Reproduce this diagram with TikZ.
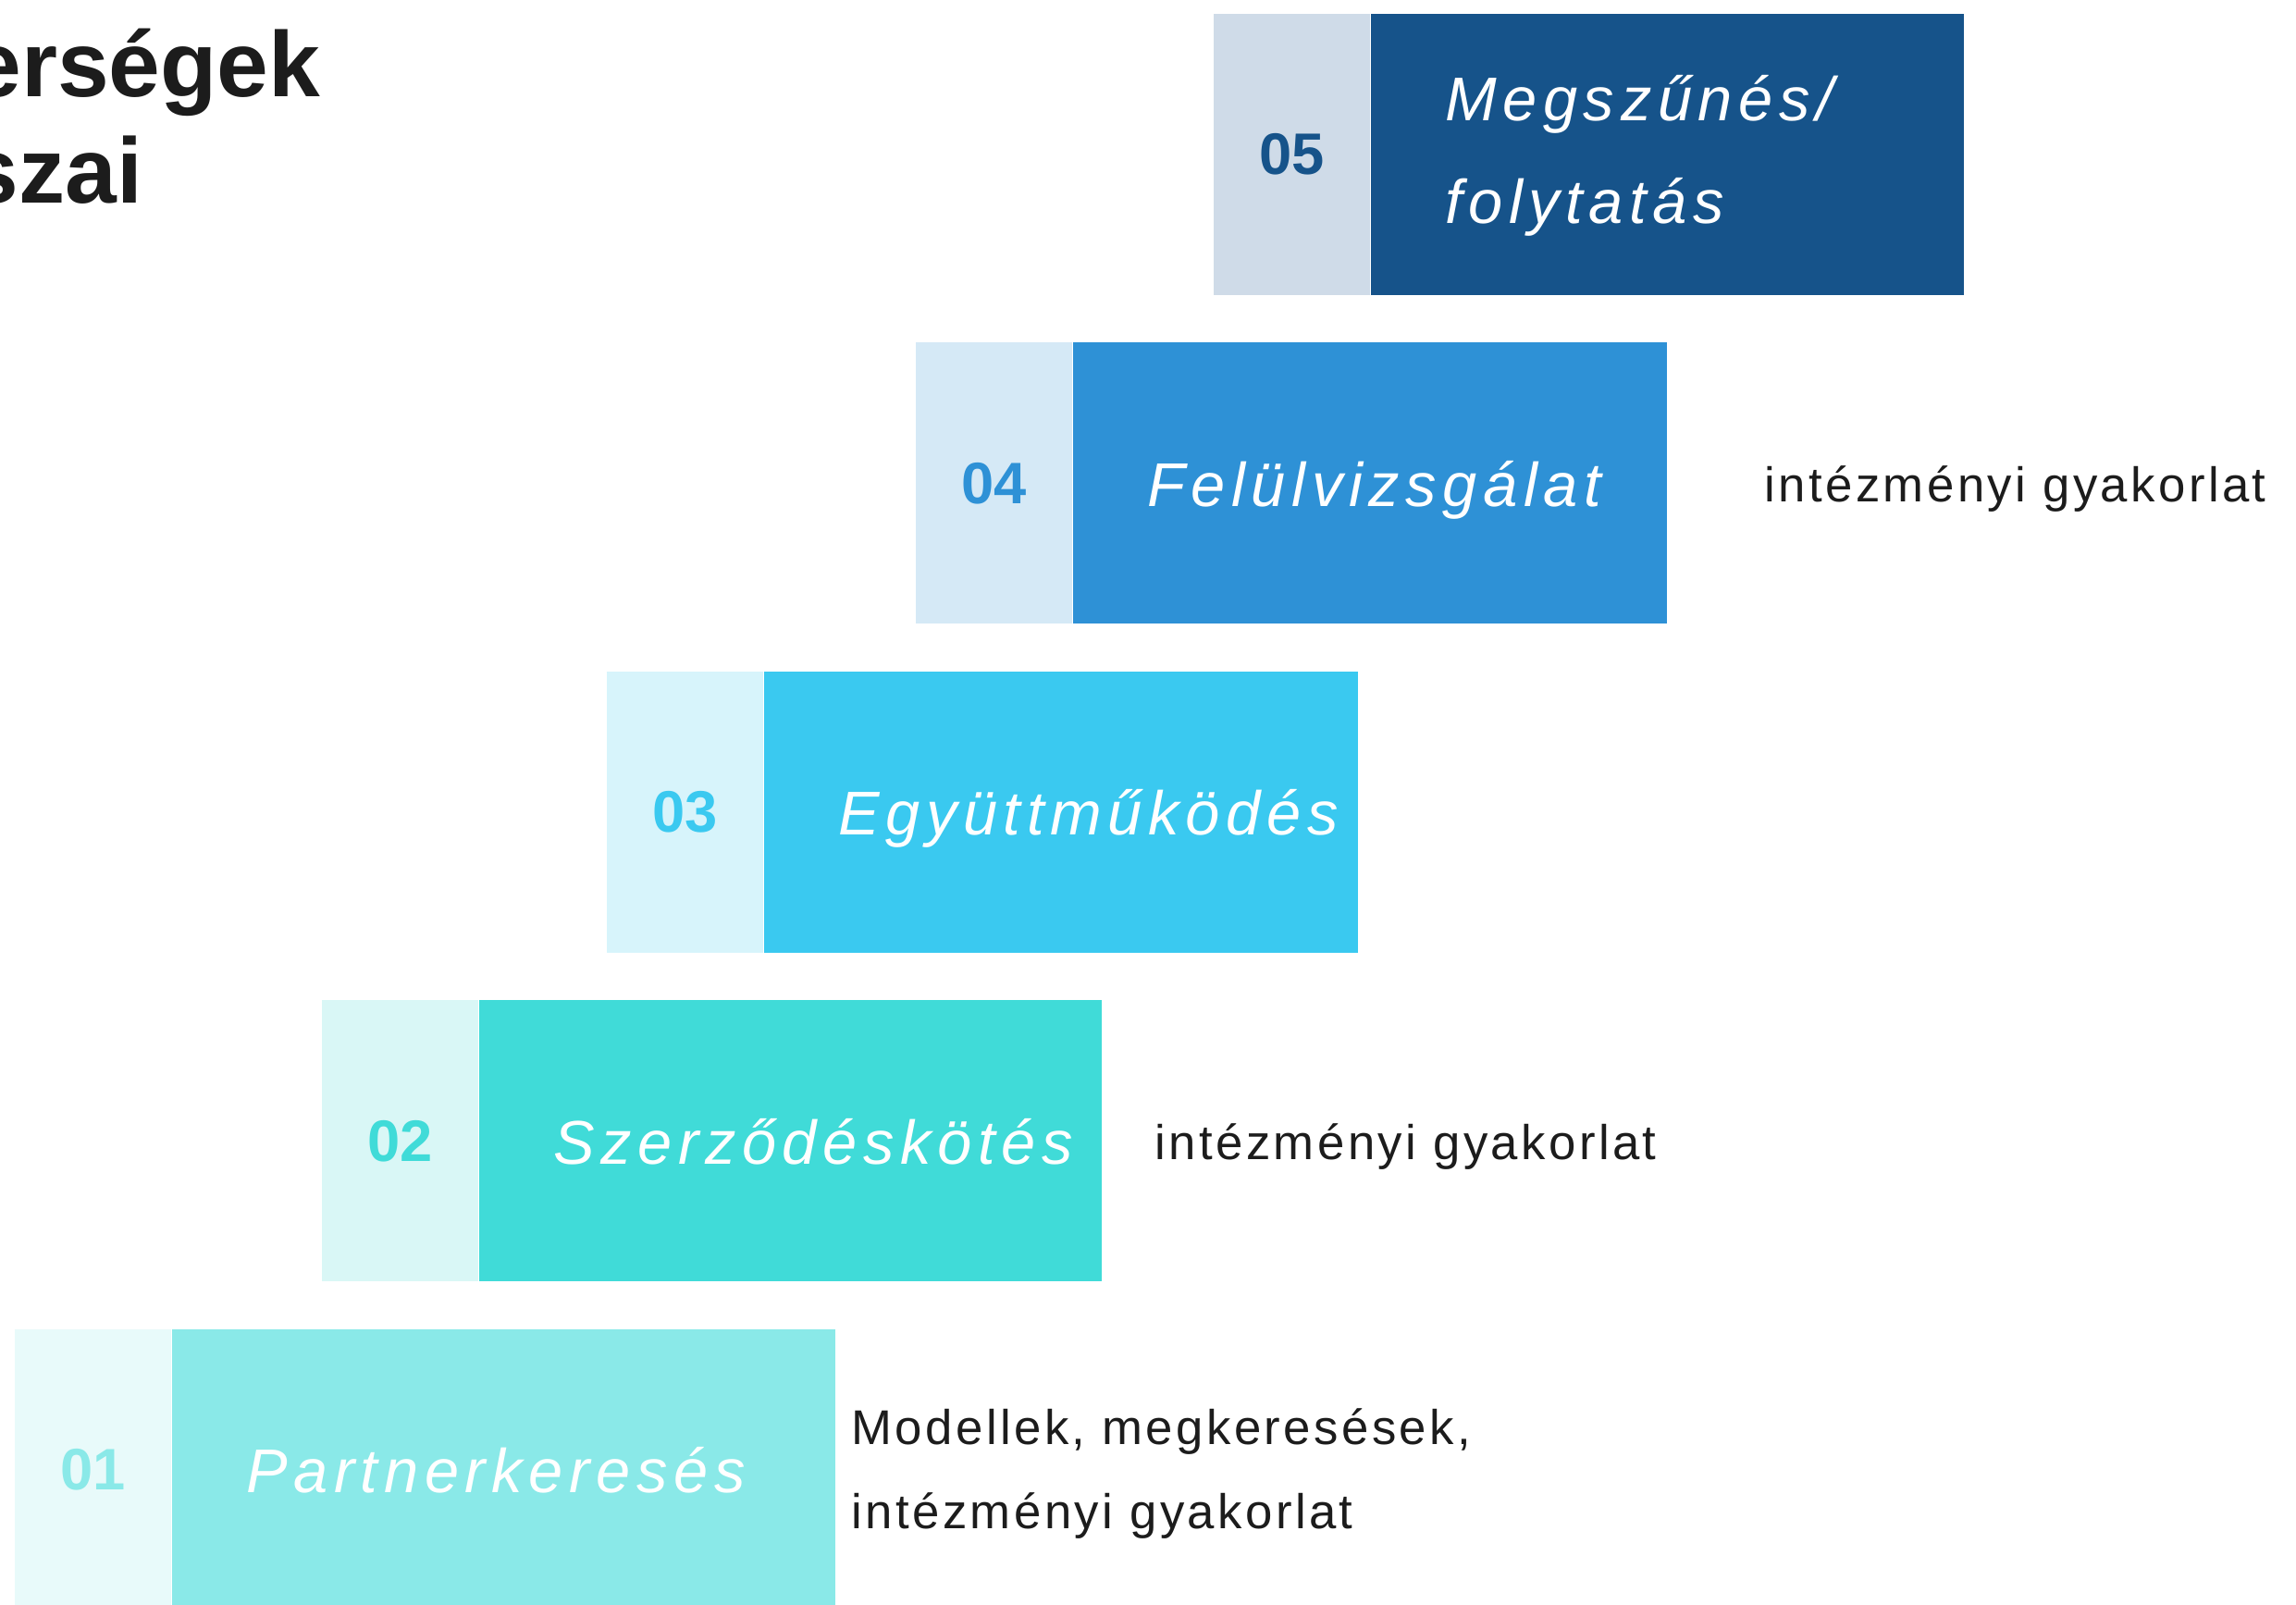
\documentclass[tikz,border=0pt]{standalone}
\usepackage{fontspec}
\setmainfont{Liberation Sans}
\newfontfamily\stagefont[LetterSpace=10]{Liberation Sans}
\newfontfamily\notefont[LetterSpace=6.5]{Liberation Sans}
\usetikzlibrary{positioning}

\definecolor{fg1}{HTML}{8AE9E8}\definecolor{bg1}{HTML}{E8FAFA}
\definecolor{fg2}{HTML}{40DBD8}\definecolor{bg2}{HTML}{D9F7F6}
\definecolor{fg3}{HTML}{3AC9F0}\definecolor{bg3}{HTML}{D7F4FB}
\definecolor{fg4}{HTML}{2E91D6}\definecolor{bg4}{HTML}{D5E9F6}
\definecolor{fg5}{HTML}{16538A}\definecolor{bg5}{HTML}{CFDBE8}
\definecolor{ink}{HTML}{1C1C1C}

\tikzset{
  numbox/.style={rectangle, inner sep=0pt, minimum width=1.69cm, minimum height=3.04cm,
    font=\fontsize{18}{18}\selectfont\bfseries},
  stagebox/.style={rectangle, inner sep=0pt, minimum height=3.04cm, anchor=west},
  stagelabel/.style={anchor=base west, inner sep=0pt, text=white, align=left,
    font=\stagefont\itshape\fontsize{19}{31.6}\selectfont},
  note/.style={anchor=base west, inner sep=0pt, text=ink, align=left,
    font=\notefont\fontsize{15}{25.9}\selectfont},
  headline/.style={anchor=base east, inner sep=0pt, text=ink,
    font=\bfseries\fontsize{28.5}{32}\selectfont}
}

\begin{document}
\begin{tikzpicture}
  \useasboundingbox (0,0) rectangle (24.82,17.35);
  \clip (0,0) rectangle (24.82,17.35);

  % title, cut at the left edge
  \node[headline] (head1) at (3.47,16.30) {erségek};
  \node[headline] (head2) at (1.55,15.15) {szai};

  % the five stages (\dy = baseline of the last line)
  \foreach \i/\x/\w/\dy/\lab in {1/0.15/7.17/-0.25/Partnerkeresés,
                                  2/3.47/6.73/-0.25/Szerződéskötés,
                                  3/6.55/6.42/-0.25/Együttműködés,
                                  4/9.89/6.42/-0.25/Felülvizsgálat,
                                  5/13.11/6.41/-0.75/{Megszűnés/\\folytatás}}{
    \pgfmathsetmacro{\yc}{1.46+3.555*(\i-1)}
    \node[numbox, fill=bg\i, text=fg\i, anchor=west] (n\i) at (\x,\yc) {0\i};
    \node[stagebox, fill=fg\i, minimum width=\w cm] (s\i) at (n\i.east) {};
    \node[stagelabel] (t\i) at ([xshift=0.8cm, yshift=\dy cm]s\i.west) {\lab};
  }

  % notes beside the stages
  \node[note] (note1) at ([xshift=0.16cm, yshift=-0.64cm]s1.east) {Modellek, megkeresések,\\intézményi gyakorlat};
  \node[note] (note2) at ([xshift=0.56cm, yshift=-0.2cm]s2.east) {intézményi gyakorlat};
  \node[note] (note4) at ([xshift=1.04cm, yshift=-0.2cm]s4.east) {intézményi gyakorlat};
\end{tikzpicture}
\end{document}
